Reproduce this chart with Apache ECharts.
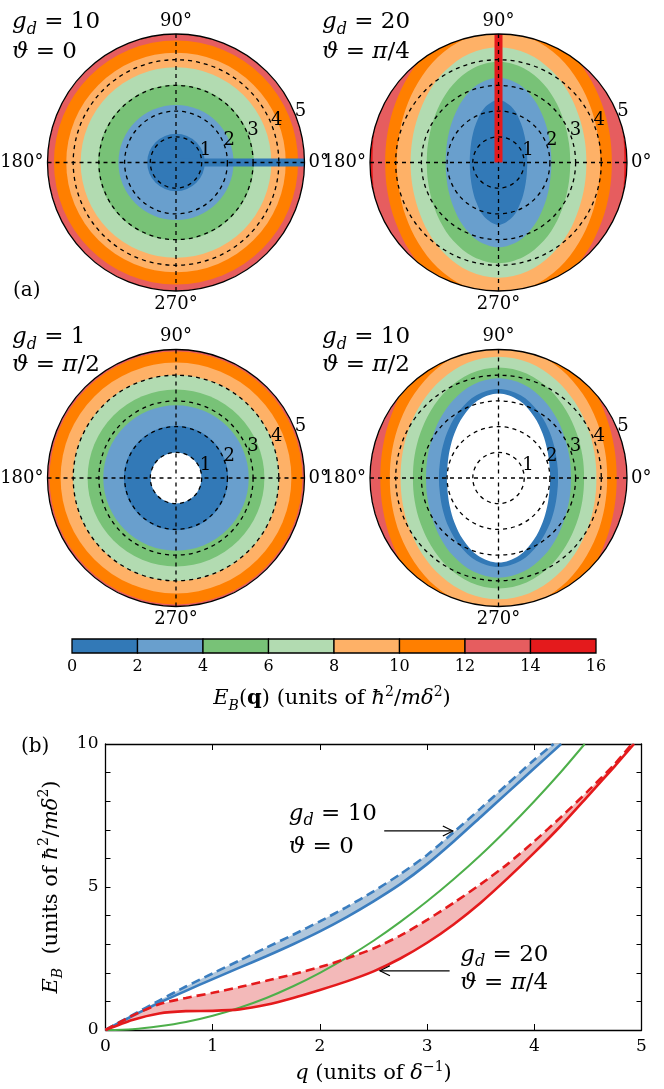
<!DOCTYPE html>
<html><head><meta charset="utf-8">
<script src="https://cdn.jsdelivr.net/npm/echarts@6/dist/echarts.min.js"></script>
<style>html,body{margin:0;padding:0;background:#fff}#c{width:664px;height:1089px}</style>
</head><body><div id="c"></div><script>
// ---------------- data ----------------
const levelColors = ['#3279b7','#699fcd','#78c277','#b2dbb1','#feb167','#ff7f00','#e65d5f','#e41a1c'];
const colorbarTicks = [0,2,4,6,8,10,12,14,16];
const contourAngles = [0,15,30,45,60,75,90];   // quarter-plane angles (deg) of the radii below
const radialTicks = [1,2,3,4,5];
// contour radii q where E_B = 2,4,6,... (one value = isotropic)
const p1Contours = [[1.12],[2.24],[3.03],[3.71],[4.27],[4.75]];
const p2Contours = [
  [1.12,1.15,1.25,1.44,1.75,2.18,2.43],
  [2.06,2.10,2.24,2.47,2.80,3.14,3.30],
  [2.79,2.84,2.98,3.22,3.52,3.80,3.92],
  [3.42,3.47,3.61,3.85,4.13,4.38,4.48],
  [3.96,4.01,4.17,4.42,4.73,4.99,5.10],
  [4.41,4.47,4.63,4.88,5.19,5.45,5.55],
  [4.90,5.00,5.31,5.80,6.40,7.00,7.70]];
const p3Hole = [0.99];
const p3Contours = [[2.03],[2.83],[3.44],[4.01],[4.49],[4.92]];
const p4Hole = [2.01,2.05,2.19,2.43,2.76,3.12,3.29];
const p4Contours = [
  [2.32,2.36,2.50,2.73,3.03,3.33,3.46],
  [2.82,2.87,3.00,3.23,3.51,3.77,3.88],
  [3.33,3.38,3.51,3.72,3.98,4.21,4.30],
  [3.81,3.86,3.99,4.19,4.43,4.64,4.72],
  [4.23,4.28,4.42,4.63,4.88,5.09,5.17],
  [4.60,4.66,4.83,5.10,5.41,5.69,5.80]];

// panel (b) curves
const blueSolidQ = [0,0.25,0.5,0.75,1,1.25,1.5,1.75,2,2.25,2.5,2.75,3,3.25,3.5,3.75,4,4.25];
const blueSolidE = [0,0.49,0.95,1.37,1.78,2.18,2.58,3.0,3.45,3.95,4.5,5.1,5.8,6.6,7.45,8.3,9.15,10.0];
const blueDashQ = [0,0.25,0.5,0.75,1,1.25,1.5,1.75,2,2.25,2.5,2.75,3,3.25,3.5,3.75,4,4.18];
const blueDashE = [0,0.52,1.03,1.52,1.98,2.43,2.88,3.33,3.8,4.3,4.85,5.45,6.12,6.92,7.75,8.6,9.45,10.0];
const greenQ = [0,0.25,0.5,0.75,1,1.25,1.5,1.75,2,2.25,2.5,2.75,3,3.25,3.5,3.75,4,4.25,4.47];
const greenE = [0,0.03,0.13,0.28,0.5,0.78,1.12,1.53,2.0,2.53,3.12,3.78,4.5,5.28,6.12,7.03,8.0,9.03,10.0];
const redSolidQ = [0,0.25,0.5,0.75,1,1.25,1.5,1.75,2,2.25,2.5,2.75,3,3.25,3.5,3.75,4,4.25,4.5,4.75,4.93];
const redSolidE = [0,0.35,0.58,0.66,0.67,0.72,0.88,1.12,1.4,1.7,2.05,2.5,3.05,3.7,4.45,5.3,6.2,7.15,8.18,9.22,10.0];
const redDashQ = [0,0.25,0.5,0.75,1,1.25,1.5,1.75,2,2.25,2.5,2.75,3,3.25,3.5,3.75,4,4.25,4.5,4.75,4.91];
const redDashE = [0,0.5,0.9,1.12,1.3,1.5,1.72,1.95,2.2,2.5,2.85,3.3,3.85,4.45,5.1,5.8,6.6,7.45,8.35,9.3,10.0];

// ---------------- helpers ----------------
const SERIF = 'DejaVu Serif';
const pairs = (xs, ys) => xs.map((x, i) => [x, ys[i]]);
function quarterValue(arr, deg) {
  if (arr.length === 1) return arr[0];
  let a = ((deg % 360) + 360) % 360;
  if (a > 180) a = 360 - a;
  if (a > 90) a = 180 - a;
  return arr[contourAngles.indexOf(Math.round(a / 15) * 15)];
}
function contourShape(api, cs, arr, color) {
  if (arr.length === 1) {
    const p = api.coord([arr[0], 0]);
    const r = Math.hypot(p[0] - cs.cx, p[1] - cs.cy);
    return {type: 'circle', shape: {cx: cs.cx, cy: cs.cy, r: r}, style: {fill: color}};
  }
  const pts = [];
  for (let q = 0; q < 4; q++) for (let j = 0; j < contourAngles.length - 1; j++) {
    const d = q * 90 + contourAngles[j];
    pts.push(api.coord([quarterValue(arr, d), d]));
  }
  return {type: 'polygon', shape: {points: pts, smooth: 0.34}, style: {fill: color}};
}

const panels = [
  {contours: p1Contours, hole: null, bg: 6, stripe: {angle: 0, band: 0}},
  {contours: p2Contours, hole: null, bg: 7, stripe: {angle: 90, band: 7}},
  {contours: p3Contours, hole: p3Hole, bg: 6, stripe: null},
  {contours: p4Contours, hole: p4Hole, bg: 6, stripe: null}
];
const centers = [[176, 162.5], [498.5, 162.5], [176, 478], [498.5, 478]];
const R = 128.5;

const dashStyle = {color: '#000', width: 1.3, type: [4, 4]};
const polar = [], angleAxis = [], radiusAxis = [], series = [];
centers.forEach((c, i) => {
  polar.push({center: c, radius: R});
  angleAxis.push({
    polarIndex: i, type: 'value', min: 0, max: 360, interval: 90, startAngle: 0, clockwise: false, z: 5,
    axisLine: {show: true, lineStyle: {color: '#000', width: 1.3}},
    axisTick: {show: false},
    axisLabel: {show: true, margin: 4, color: '#000', fontFamily: SERIF, fontSize: 18,
      formatter: v => (v === 360 ? '' : v + '°')},
    splitLine: {show: true, lineStyle: dashStyle}
  });
  radiusAxis.push({
    polarIndex: i, type: 'value', min: 0, max: 5, interval: 1, z: 5,
    axisLine: {show: false}, axisTick: {show: false}, axisLabel: {show: false},
    splitLine: {show: true, lineStyle: {color: ['#000','#000','#000','#000','#000','rgba(0,0,0,0)'], width: 1.3, type: [4, 4]}}
  });
  const pn = panels[i];
  series.push({
    type: 'custom', coordinateSystem: 'polar', polarIndex: i, z: 1, clip: true, silent: true,
    data: [0],
    renderItem(params, api) {
      const cs = params.coordSys;
      const children = [{type: 'circle', shape: {cx: cs.cx, cy: cs.cy, r: cs.r}, style: {fill: levelColors[pn.bg]}}];
      for (let k = pn.contours.length - 1; k >= 0; k--) children.push(contourShape(api, cs, pn.contours[k], levelColors[k]));
      if (pn.hole) children.push(contourShape(api, cs, pn.hole, '#ffffff'));
      if (pn.stripe) {
        const a = api.coord([0, pn.stripe.angle]), b = api.coord([5, pn.stripe.angle]);
        children.push({type: 'line', shape: {x1: a[0], y1: a[1], x2: b[0], y2: b[1]},
          style: {stroke: levelColors[pn.stripe.band], lineWidth: 8, lineCap: 'butt'}});
      }
      return {type: 'group', children: children,
        clipPath: {type: 'circle', shape: {cx: cs.cx, cy: cs.cy, r: cs.r}}};
    }
  });
  series.push({
    type: 'custom', coordinateSystem: 'polar', polarIndex: i, z: 6, silent: true,
    data: radialTicks.map(v => [v, 22.5]),
    renderItem(params, api) {
      const v = api.value(0);
      const p = api.coord([v + 0.24, 22.5]);
      return {type: 'text', x: p[0], y: p[1],
        style: {text: String(v), fontFamily: SERIF, fontSize: 18, fill: '#000', align: 'center', verticalAlign: 'middle'}};
    }
  });
});

// ---------------- colorbar ----------------
const cbGrid = {left: 72, top: 639, width: 524, height: 14};
// ---------------- panel (b) ----------------
const bGrid = {left: 105.5, right: 22.5, top: 744, bottom: 59};

const grid = [cbGrid, bGrid];
function richSet(fs, colorKey) {
  const c = {}; c[colorKey] = '#000';
  return {
    n: Object.assign({fontFamily: SERIF, fontSize: fs, lineHeight: fs + 7}, c),
    i: Object.assign({fontFamily: SERIF, fontStyle: 'italic', fontSize: fs, lineHeight: fs + 7}, c),
    b: Object.assign({fontFamily: SERIF, fontWeight: 'bold', fontSize: fs, lineHeight: fs + 7}, c),
    s: Object.assign({fontFamily: SERIF, fontStyle: 'italic', fontSize: Math.round(fs * 0.68), verticalAlign: 'bottom', lineHeight: Math.round(fs * 0.68)}, c),
    p: Object.assign({fontFamily: SERIF, fontSize: Math.round(fs * 0.68), verticalAlign: 'top', lineHeight: Math.round(fs * 0.68)}, c)
  };
}
const xAxis = [
  {gridIndex: 0, type: 'value', min: 0, max: 16, interval: 2, position: 'bottom',
   axisLine: {show: false}, axisTick: {show: false}, splitLine: {show: false},
   axisLabel: {color: '#000', fontFamily: SERIF, fontSize: 16, margin: 6}},
  {gridIndex: 1, type: 'value', min: 0, max: 5, interval: 1, position: 'bottom',
   axisLine: {show: true, onZero: false, lineStyle: {color: '#000', width: 1.3}},
   axisTick: {show: true, inside: true, length: 6, lineStyle: {color: '#000'}},
   splitLine: {show: false},
   axisLabel: {color: '#000', fontFamily: SERIF, fontSize: 17, margin: 8},
   name: '{i|q}{n| (units of }{i|δ}{p|−1}{n|)}', nameLocation: 'middle', nameGap: 30,
   nameTextStyle: {rich: richSet(21, 'color')}},
  {gridIndex: 1, type: 'value', min: 0, max: 5, interval: 1, position: 'top',
   axisLine: {show: true, onZero: false, lineStyle: {color: '#000', width: 1.3}},
   axisTick: {show: true, inside: true, length: 6, lineStyle: {color: '#000'}},
   axisLabel: {show: false}, splitLine: {show: false}}
];
const yAxis = [
  {gridIndex: 0, type: 'value', min: 0, max: 1, show: false},
  {gridIndex: 1, type: 'value', min: 0, max: 10, interval: 1, position: 'left',
   axisLine: {show: true, onZero: false, lineStyle: {color: '#000', width: 1.3}},
   axisTick: {show: true, inside: true, length: 5, lineStyle: {color: '#000'}},
   splitLine: {show: false},
   axisLabel: {color: '#000', fontFamily: SERIF, fontSize: 17, margin: 7,
     formatter: v => (v % 5 === 0 ? String(v) : '')},
   name: '{i|E}{s|B}{n|  (units of }{i|ħ}{p|2}{n|/}{i|mδ}{p|2}{n|)}', nameLocation: 'middle', nameGap: 40, nameRotate: 90,
   nameTextStyle: {rich: richSet(21, 'color')}},
  {gridIndex: 1, type: 'value', min: 0, max: 10, interval: 1, position: 'right',
   axisLine: {show: true, onZero: false, lineStyle: {color: '#000', width: 1.3}},
   axisTick: {show: true, inside: true, length: 5, lineStyle: {color: '#000'}},
   axisLabel: {show: false}, splitLine: {show: false}}
];

// colorbar cells
series.push({
  type: 'custom', xAxisIndex: 0, yAxisIndex: 0, silent: true, z: 2,
  data: colorbarTicks.slice(0, -1).map((t, k) => [t, colorbarTicks[k + 1], k]),
  renderItem(params, api) {
    const a = api.coord([api.value(0), 1]), b = api.coord([api.value(1), 0]);
    return {type: 'rect', shape: {x: a[0], y: a[1], width: b[0] - a[0], height: b[1] - a[1]},
      style: {fill: levelColors[api.value(2)], stroke: '#000', lineWidth: 1.3}};
  }
});

// band fills between solid and dashed curves
function bandSeries(upQ, upE, loQ, loE, color) {
  return {
    type: 'custom', xAxisIndex: 1, yAxisIndex: 1, silent: true, z: 1, clip: true,
    data: [0],
    renderItem(params, api) {
      const pts = [];
      upQ.forEach((q, k) => pts.push(api.coord([q, upE[k]])));
      for (let k = loQ.length - 1; k >= 0; k--) pts.push(api.coord([loQ[k], loE[k]]));
      return {type: 'polygon', shape: {points: pts, smooth: 0}, style: {fill: color}};
    }
  };
}
series.push(bandSeries(blueDashQ, blueDashE, blueSolidQ, blueSolidE, '#b0c7dc'));
series.push(bandSeries(redDashQ, redDashE, redSolidQ, redSolidE, '#f3b9b9'));

function lineSeries(qs, es, color, w, dashed) {
  return {type: 'line', xAxisIndex: 1, yAxisIndex: 1, data: pairs(qs, es), showSymbol: false,
    smooth: 0.25,
    silent: true, z: 3, clip: true,
    lineStyle: {color: color, width: w, type: dashed ? [9, 5] : 'solid'}};
}
series.push(lineSeries(greenQ, greenE, '#4daf4a', 2, false));
series.push(lineSeries(blueSolidQ, blueSolidE, '#3a7dbf', 2.6, false));
series.push(lineSeries(blueDashQ, blueDashE, '#3a7dbf', 2.6, true));
series.push(lineSeries(redSolidQ, redSolidE, '#e41a1c', 2.6, false));
series.push(lineSeries(redDashQ, redDashE, '#e41a1c', 2.6, true));

// annotations in panel (b)
const annoRich = richSet(23, 'fill');
const bAnnotations = [
  {text: '{i|g}{s|d}{n| = 10}', at: [1.71, 7.55]},
  {text: '{i|ϑ}{n| = 0}', at: [1.71, 6.4]},
  {text: '{i|g}{s|d}{n| = 20}', at: [3.31, 2.63]},
  {text: '{i|ϑ}{n| = }{i|π}{n|/4}', at: [3.31, 1.64]}
];
const bArrows = [
  {from: [2.6, 6.96], to: [3.24, 6.96]},
  {from: [3.21, 2.07], to: [2.56, 2.07]}
];
series.push({
  type: 'custom', xAxisIndex: 1, yAxisIndex: 1, silent: true, z: 5, clip: false,
  data: [0],
  renderItem(params, api) {
    const ch = [];
    bAnnotations.forEach(a => {
      const p = api.coord(a.at);
      ch.push({type: 'text', x: p[0], y: p[1], style: {text: a.text, rich: annoRich, align: 'left', verticalAlign: 'middle'}});
    });
    bArrows.forEach(a => {
      const p0 = api.coord(a.from), p1 = api.coord(a.to);
      const dir = Math.sign(p1[0] - p0[0]);
      ch.push({type: 'line', shape: {x1: p0[0], y1: p0[1], x2: p1[0], y2: p1[1]}, style: {stroke: '#000', lineWidth: 1.2}});
      ch.push({type: 'polyline', shape: {points: [[p1[0] - dir * 10, p1[1] - 5], [p1[0], p1[1]], [p1[0] - dir * 10, p1[1] + 5]]},
        style: {stroke: '#000', lineWidth: 1.2, fill: null}});
    });
    return {type: 'group', children: ch};
  }
});

// panel labels
const pRich = richSet(23, 'fill');
function ptext(x, y, t) {
  return {type: 'text', left: x, top: y, z: 10, style: {text: t, rich: pRich}};
}
const graphic = [
  ptext(12, 11, '{i|g}{s|d}{n| = 10}'), ptext(12, 41, '{i|ϑ}{n| = 0}'),
  ptext(322, 11, '{i|g}{s|d}{n| = 20}'), ptext(322, 41, '{i|ϑ}{n| = }{i|π}{n|/4}'),
  ptext(12, 326, '{i|g}{s|d}{n| = 1}'), ptext(12, 354, '{i|ϑ}{n| = }{i|π}{n|/2}'),
  ptext(322, 326, '{i|g}{s|d}{n| = 10}'), ptext(322, 354, '{i|ϑ}{n| = }{i|π}{n|/2}'),
  {type: 'text', left: 13, top: 281, style: {text: '(a)', font: '20px "DejaVu Serif"', fill: '#000'}},
  {type: 'text', left: 21, top: 737, style: {text: '(b)', font: '20px "DejaVu Serif"', fill: '#000'}},
  {type: 'text', left: 'center', top: 685, style: {text: '{i|E}{s|B}{n|(}{b|q}{n|) (units of }{i|ħ}{p|2}{n|/}{i|mδ}{p|2}{n|)}',
    rich: richSet(21, 'fill')}}
];

const chart = echarts.init(document.getElementById('c'), null, {renderer: 'canvas'});
chart.setOption({
  animation: false, backgroundColor: '#fff',
  polar, angleAxis, radiusAxis, grid, xAxis, yAxis, series, graphic
});
</script></body></html>
